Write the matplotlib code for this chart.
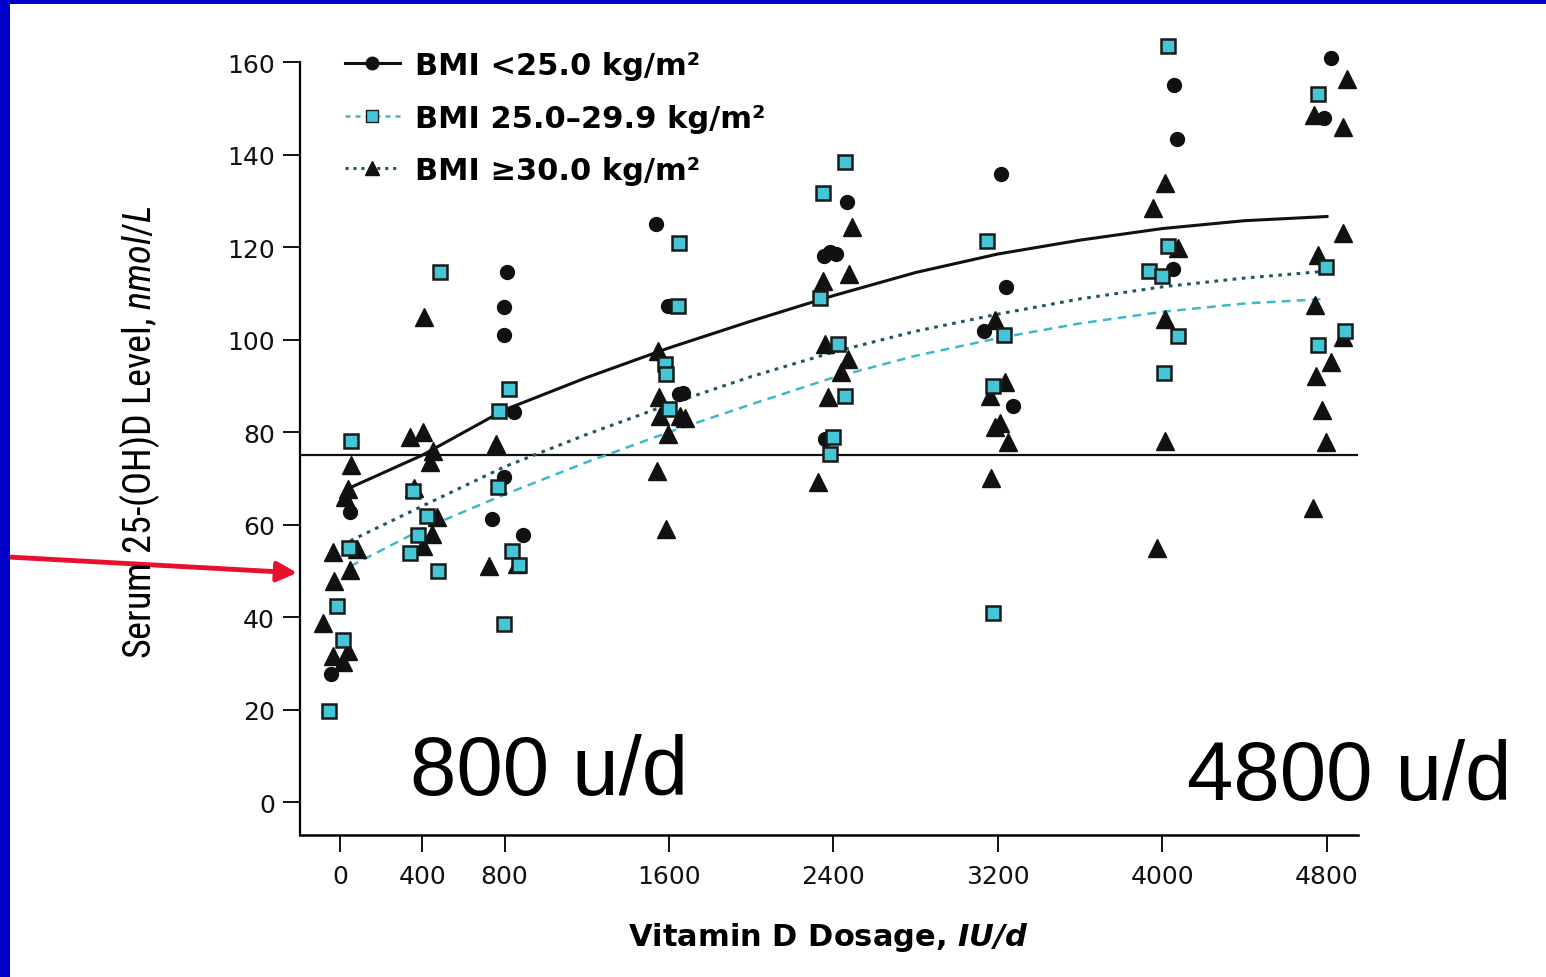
import matplotlib
matplotlib.use("Agg")
import matplotlib.pyplot as plt
from matplotlib import font_manager
from matplotlib.lines import Line2D
from matplotlib.patches import Rectangle, FancyArrowPatch


# Axis ticks
dose_ticks = [0, 400, 800, 1600, 2400, 3200, 4000, 4800]
level_ticks = [0, 20, 40, 60, 80, 100, 120, 140, 160]
threshold = 75

# Fitted curves
curve_dose = [50, 400, 800, 1200, 1600, 2000, 2400, 2800, 3200, 3600, 4000, 4400, 4800]
curve_lean = [68, 75, 84.8, 91.8, 98.2, 104, 109.5, 114.5, 118.5, 121.5, 124, 125.7, 126.6]
curve_over = [51, 59, 66.5, 73.5, 80, 86, 91.8, 96.5, 100.3, 103.5, 106, 107.8, 108.8]
curve_obese = [56.5, 64, 72.5, 79.5, 86, 92, 97.3, 101.8, 105.5, 108.8, 111.4, 113.3, 114.8]

# Individual subjects, dose jittered as printed
lean_dose = [49, -44,
             812, 798, 798, 846, 798, 739, 890,
             1537, 1595, 1649, 1668,
             2466, 2355, 2385, 2410, 2359,
             3215, 3239, 3132, 3273,
             4056, 4071, 4051,
             4820, 4786]
lean_level = [62.7, 27.7,
              114.6, 107, 101, 84.3, 70.3, 61.2, 57.7,
              125, 107.2, 88.2, 88.5,
              129.7, 118, 119, 118.5, 78.5,
              135.7, 111.4, 101.8, 85.6,
              155.1, 143.4, 115.2,
              160.8, 147.9]

over_dose = [53, 44, -15, 15, -53,
             486, 355, 423, 379, 340, 477,
             822, 773, 768, 837, 871, 798,
             1649, 1644, 1581, 1586, 1600,
             2456, 2349, 2335, 2422, 2456, 2398, 2383,
             3147, 3230, 3176, 3176,
             4027, 4027, 3935, 3998, 4076, 4008,
             4757, 4796, 4888, 4757]
over_level = [78, 55, 42.4, 35, 19.7,
              114.6, 67.2, 61.8, 57.7, 53.8, 50,
              89.3, 84.5, 68.1, 54.3, 51.2, 38.5,
              120.9, 107.2, 94.7, 92.5, 85,
              138.4, 131.7, 109, 99, 87.8, 79, 75.2,
              121.4, 101, 89.9, 40.9,
              163.5, 120.2, 114.8, 113.8, 100.8, 92.7,
              153, 115.7, 101.8, 98.9]

obese_dose = [53, 39, 25, -34, 83, 49, -29, -83, 39, -34, 15,
              340, 404, 452, 438, 360, 472, 447, 404, 409,
              759, 725, 860,
              1547, 1552, 1556, 1654, 1678, 1595, 1542, 1586,
              2490, 2475, 2349, 2359, 2470, 2437, 2374, 2325,
              3186, 3234, 3161, 3210, 3186, 3249, 3166,
              4013, 3954, 4076, 4013, 4013, 3974,
              4898, 4737, 4878, 4878, 4757, 4742, 4878, 4820, 4747, 4776, 4796, 4732]
obese_level = [72.9, 67.7, 66, 54, 54.7, 50.2, 47.8, 38.7, 32.7, 31.6, 30.3,
               79, 80, 76, 73.5, 68, 61.6, 58, 55.3, 104.9,
               77.4, 51, 51.5,
               97.5, 87.6, 83.5, 83.5, 83, 79.6, 71.6, 59,
               124.3, 114.2, 112.6, 99, 95.8, 93, 87.6, 69.2,
               104.2, 90.8, 87.8, 82, 81, 77.8, 70,
               133.9, 128.4, 119.8, 104.4, 78, 54.9,
               156.4, 148.5, 146, 123, 118.3, 107.5, 100.5, 95.1, 92.2, 84.8, 77.8, 63.5]

labels = ["BMI <25.0 kg/m²", "BMI 25.0–29.9 kg/m²", "BMI ≥30.0 kg/m²"]


# Fonts: look for a narrow face for the y label
installed = {f.name for f in font_manager.fontManager.ttflist}
narrow = "DejaVu Sans"
narrow_size = 21
for cand in ["Liberation Sans Narrow", "DejaVu Sans Condensed", "Roboto Condensed",
             "Open Sans Condensed", "Noto Sans Condensed"]:
    if cand in installed:
        narrow, narrow_size = cand, 27.5
        break
plt.rcParams["font.family"] = ["DejaVu Sans"]
plt.rcParams["mathtext.fontset"] = "custom"
plt.rcParams["mathtext.rm"] = narrow
plt.rcParams["mathtext.it"] = narrow + ":italic"

W, H = 1546, 978
fig = plt.figure(figsize=(W / 100, H / 100), dpi=100)
fig.patch.set_facecolor("white")

# axes box in pixels: left spine x=300, bottom spine y=836
ax = fig.add_axes([300 / W, 1 - 836 / H, 1058 / W, 800.75 / H])
ax.set_xlim(-194.6, 4951)
ax.set_ylim(-7.1, 166)

black = "#111111"
cyan = "#3DB9C9"
teal = "#1d5866"
sq_fill = "#45C6D6"

ax.axhline(threshold, color=black, lw=1.6, zorder=2)

ax.plot(curve_dose, curve_lean, color=black, lw=2.2, zorder=3)
ax.plot(curve_dose, curve_over, color=cyan, lw=1.8, dashes=(3.5, 2.5), zorder=3)
ax.plot(curve_dose, curve_obese, color=teal, lw=2.2, dashes=(1.2, 1.8), zorder=3)

ax.plot(obese_dose, obese_level, "^", ms=12.5, color=black, mec=black, ls="none",
        zorder=4, clip_on=False)
ax.plot(lean_dose, lean_level, "o", ms=10, color=black, mec=black, ls="none",
        zorder=5, clip_on=False)
ax.plot(over_dose, over_level, "s", ms=10.5, mfc=sq_fill, mec="#1a1a1a", mew=1.8, ls="none",
        zorder=6, clip_on=False)

# spines and ticks
ax.spines["top"].set_visible(False)
ax.spines["right"].set_visible(False)
ax.spines["left"].set_bounds(-7.1, 160)
ax.spines["left"].set_linewidth(1.6)
ax.spines["bottom"].set_linewidth(1.8)
ax.set_xticks(dose_ticks)
ax.set_yticks(level_ticks)
ax.tick_params(axis="y", direction="out", length=12, width=1.4, pad=6, labelsize=18, colors=black)
ax.tick_params(axis="x", direction="out", length=12, width=1.4, pad=9, labelsize=18, colors=black)
ax.set_facecolor("none")

ax.set_xlabel(r"Vitamin D Dosage, $\mathbfit{IU/d}$", fontsize=22, fontweight="bold",
              math_fontfamily="dejavusans")
ax.xaxis.set_label_coords(0.499, -0.106)
fig.text(140 / W, 1 - 432 / H, r"Serum 25-(OH)D Level, $\mathit{nmol/L}$",
         rotation=90, ha="center", va="center", fontsize=narrow_size, family=narrow)

handles = [
    Line2D([], [], color=black, lw=2.2, marker="o", ms=9),
    Line2D([], [], color=cyan, lw=1.8, dashes=(2, 2), marker="s", ms=9, mfc=sq_fill, mec="#1a1a1a"),
    Line2D([], [], color=teal, lw=2.2, dashes=(1, 1.6), marker="^", ms=10, mfc=black, mec=black),
]
leg = ax.legend(handles, labels, loc="upper left", bbox_to_anchor=(0.0425, 0.979),
                frameon=False, borderpad=0, borderaxespad=0, handlelength=1.8,
                handletextpad=0.5, labelspacing=0.77,
                prop={"size": 22, "weight": "bold"})

# slide overlays
fig.text(410 / W, 1 - 795 / H, "800 u/d", fontsize=60, family="Liberation Sans",
         va="baseline", ha="left", color="black")
fig.text(1187 / W, 1 - 800 / H, "4800 u/d", fontsize=60, family="Liberation Sans",
         va="baseline", ha="left", color="black")

arrow = FancyArrowPatch((8 / W, 1 - 558 / H), (300 / W, 1 - 574 / H),
                        transform=fig.transFigure, arrowstyle="-|>,head_length=12,head_width=6",
                        color="#E8112D", lw=3.5, mutation_scale=1)
fig.add_artist(arrow)

blue = "#0000C8"
fig.add_artist(Rectangle((0, 1 - 5 / H), 1, 5 / H, transform=fig.transFigure,
                         color=blue, lw=0))
fig.add_artist(Rectangle((0, 0), 10 / W, 1, transform=fig.transFigure,
                         color=blue, lw=0))

fig.savefig("out.png", dpi=100)
